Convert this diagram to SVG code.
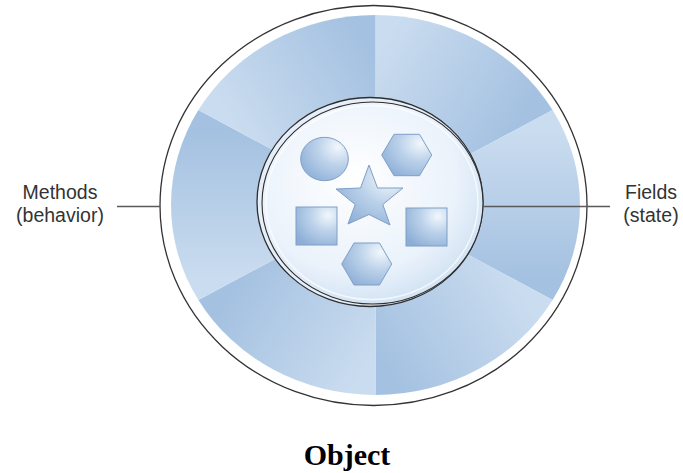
<svg xmlns="http://www.w3.org/2000/svg" xmlns:xlink="http://www.w3.org/1999/xlink" width="683" height="473" viewBox="0 0 683 473">
  <style>
    .lbl { font-family: "Liberation Sans", Arial, sans-serif; font-size: 19.5px; fill: #333333; text-anchor: middle; }
    .title { font-family: "Liberation Serif", "Times New Roman", serif; font-size: 30px; font-weight: bold; fill: #000000; text-anchor: middle; }
    .conn { stroke: #5a5a5a; stroke-width: 1.6; fill: none; }
    .shape { fill: url(#shapeGrad); stroke: #7f9fc6; stroke-width: 1; }
  </style>
  <defs>
    <linearGradient id="segGrad" gradientUnits="userSpaceOnUse" x1="6" y1="-170" x2="144" y2="-90">
      <stop offset="0" stop-color="#cadcef"/>
      <stop offset="1" stop-color="#a4c1e1"/>
    </linearGradient>
    <path id="wedge" d="M0,0 L0,-204.5 A204.5,204.5 0 0 1 177.1,-102.25 Z" fill="url(#segGrad)"/>
    <radialGradient id="discGrad" cx="0.42" cy="0.38" r="0.62">
      <stop offset="0" stop-color="#ffffff"/>
      <stop offset="0.75" stop-color="#eaf2fb"/>
      <stop offset="1" stop-color="#d4e4f4"/>
    </radialGradient>
    <radialGradient id="shapeGrad" cx="0.78" cy="0.22" r="0.95">
      <stop offset="0" stop-color="#f2f7fc"/>
      <stop offset="0.45" stop-color="#bcd2ea"/>
      <stop offset="1" stop-color="#8badd6"/>
    </radialGradient>
  </defs>

  <g id="object">
    <ellipse cx="373.5" cy="205.5" rx="213.5" ry="200" fill="#ffffff" stroke="#333333" stroke-width="1.3"/>
    <g id="methods-ring" transform="translate(375.5,205) scale(1,0.929)">
      <use xlink:href="#wedge"/>
      <use xlink:href="#wedge" transform="rotate(60)"/>
      <use xlink:href="#wedge" transform="rotate(120)"/>
      <use xlink:href="#wedge" transform="rotate(180)"/>
      <use xlink:href="#wedge" transform="rotate(240)"/>
      <use xlink:href="#wedge" transform="rotate(300)"/>
    </g>
    <g id="fields-core">
      <ellipse cx="370" cy="202" rx="113" ry="104.5" fill="#e6eff9" stroke="#2e2e2e" stroke-width="1.3"/>
      <ellipse cx="372.5" cy="203" rx="110.5" ry="101" fill="url(#discGrad)" stroke="#2e2e2e" stroke-width="1.1"/>
      <ellipse cx="372" cy="202.5" rx="106" ry="97" fill="none" stroke="#ffffff" stroke-width="1.5" opacity="0.7"/>
    </g>
  </g>

  <g id="field-shapes">
    <ellipse id="shape-circle" class="shape" cx="324.5" cy="159" rx="23.8" ry="21.7"/>
    <polygon id="shape-hex-top" class="shape" points="381.7,155 394,134.3 419.5,134.3 431.7,155 419.5,175.7 394,175.7"/>
    <polygon id="shape-star" class="shape" points="369,165 377.5,188 403,188 382.8,204.5 390,225 369,214.5 348,224 355.2,204.5 336,189 360.5,188"/>
    <rect id="shape-square-left" class="shape" x="296" y="207" width="41" height="38"/>
    <rect id="shape-square-right" class="shape" x="406" y="208" width="41" height="38"/>
    <polygon id="shape-hex-bottom" class="shape" points="341.7,264 354,243 379.5,243 391.7,264 379.5,285 354,285"/>
  </g>

  <g id="connectors">
    <line class="conn" x1="117" y1="206.5" x2="160" y2="206.5"/>
    <line class="conn" x1="483" y1="206.5" x2="610" y2="206.5"/>
  </g>

  <g id="methods-label">
    <text class="lbl" x="60" y="199">Methods</text>
    <text class="lbl" x="60" y="222">(behavior)</text>
  </g>
  <g id="fields-label">
    <text class="lbl" x="651" y="199">Fields</text>
    <text class="lbl" x="651" y="222">(state)</text>
  </g>
  <g id="caption">
    <text class="title" x="347" y="465">Object</text>
  </g>
</svg>
